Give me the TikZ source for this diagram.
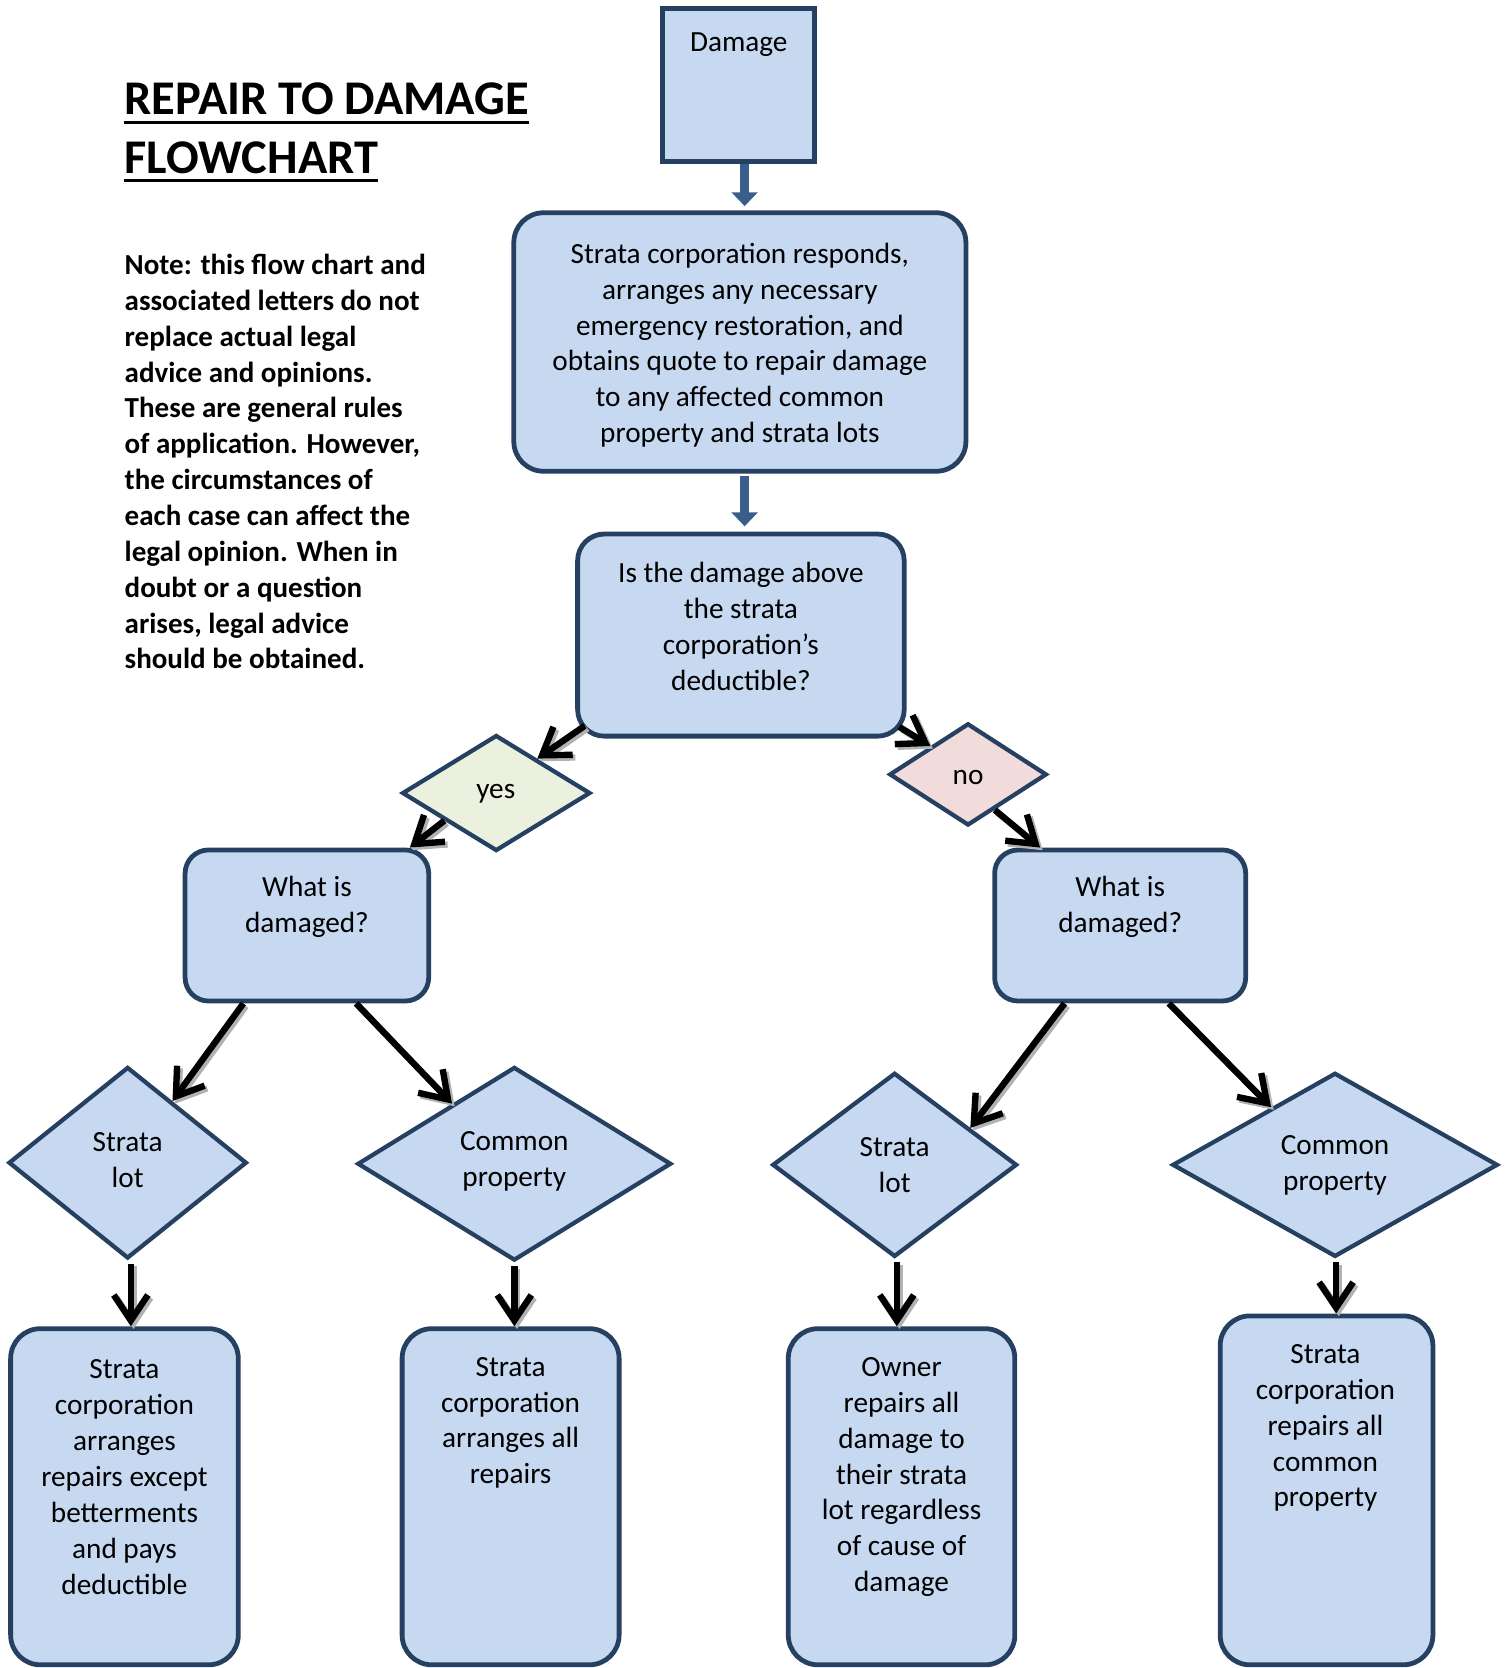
\documentclass[tikz,border=0pt]{standalone}
\usepackage{fontspec}
\setmainfont{Carlito}
\usetikzlibrary{shapes.geometric,arrows.meta}
\definecolor{boxfill}{RGB}{198,217,241}
\definecolor{boxline}{RGB}{38,64,97}
\definecolor{yesfill}{RGB}{235,241,222}
\definecolor{nofill}{RGB}{242,220,219}
\definecolor{bluearrow}{RGB}{58,94,140}
\newcommand\connector[2]{\draw[arrshadow] #1 -- #2; \draw[arr] #1 -- #2;}
\begin{document}
\begin{tikzpicture}[x=1pt,y=-1pt,
  box/.style={draw=boxline, line width=4.5pt, fill=boxfill, rounded corners=28pt, inner sep=0pt},
  sq/.style={draw=boxline, line width=4.5pt, fill=boxfill, inner sep=0pt},
  dia/.style={diamond, draw=boxline, line width=4pt, fill=boxfill, inner sep=0pt, aspect=1},
  txt/.style={align=center, font=\fontsize{27.5}{33.7}\selectfont, inner sep=0pt},
  note/.style={align=left, font=\fontsize{27.3}{33.7}\selectfont\bfseries, inner sep=0pt},
  ttl/.style={font=\fontsize{45.5}{56}\selectfont\bfseries, inner sep=0pt},
  arr/.style={line width=6pt, draw=black, -{Straight Barb[length=24pt,width=32pt]}},
  arrshadow/.style={arr, draw=black!30, transform canvas={shift={(2.5pt,-2.5pt)}}},
  barr/.style={line width=9pt, draw=bluearrow, -{Triangle[length=13pt,width=24pt]}}
]
\useasboundingbox (0,0) rectangle (1417,1568);

% title and note
\node[ttl, anchor=base west] (t1) at (117,108) {REPAIR TO DAMAGE};
\node[ttl, anchor=base west] (t2) at (117,163) {FLOWCHART};
\draw[line width=3pt] ([yshift=-7pt]t1.base west) -- ([yshift=-7pt]t1.base east);
\draw[line width=3pt] ([yshift=-7pt]t2.base west) -- ([yshift=-7pt]t2.base east);
\node[note, anchor=west] (nt) at (117,434) {Note: this flow chart and\\associated letters do not\\replace actual legal\\advice and opinions.\\These are general rules\\of application. However,\\the circumstances of\\each case can affect the\\legal opinion. When in\\doubt or a question\\arises, legal advice\\should be obtained.};

% boxes
\node[sq, minimum width=143pt, minimum height=144pt] (dmg) at (694.5,80) {};
\node[txt] (dmgt) at (694.5,41.5) {Damage};
\node[box, minimum width=425pt, minimum height=243pt] (box2) at (695.5,321.5) {};
\node[txt] (box2t) at (695.5,324.5) {Strata corporation responds,\\arranges any necessary\\emergency restoration, and\\obtains quote to repair damage\\to any affected common\\property and strata lots};
\node[box, minimum width=307pt, minimum height=190pt, rounded corners=25pt] (box3) at (696.5,597) {};
\node[txt] (box3t) at (696.5,589) {Is the damage above\\the strata\\corporation’s\\deductible?};

\node[dia, fill=yesfill, minimum width=177pt, minimum height=109pt] (yes) at (466.5,745.5) {};
\node[txt] (yest) at (466,746) {yes};
\node[dia, fill=nofill, minimum width=148pt, minimum height=96pt] (no) at (910,728) {};
\node[txt] (not) at (910,731) {no};

\node[box, minimum width=229pt, minimum height=142pt, rounded corners=22pt] (lw) at (288.5,870) {};
\node[txt] (lwt) at (288.5,852.5) {What is\\damaged?};
\node[box, minimum width=236pt, minimum height=142pt, rounded corners=22pt] (rw) at (1053,870) {};
\node[txt] (rwt) at (1053,852.5) {What is\\damaged?};

\node[dia, minimum width=224pt, minimum height=180pt] (sl1) at (120,1093) {};
\node[txt] (sl1t) at (120,1090.5) {Strata\\lot};
\node[dia, minimum width=295pt, minimum height=182pt] (cp1) at (483.5,1094) {};
\node[txt] (cp1t) at (483.5,1091.5) {Common\\property};
\node[dia, minimum width=230pt, minimum height=173pt] (sl2) at (841,1095) {};
\node[txt] (sl2t) at (841,1095) {Strata\\lot};
\node[dia, minimum width=306pt, minimum height=173pt] (cp2) at (1255,1095) {};
\node[txt] (cp2t) at (1255,1095.5) {Common\\property};

\node[box, minimum width=214pt, minimum height=316pt] (b1) at (117,1407) {};
\node[txt] (b1t) at (117,1388.5) {Strata\\corporation\\arranges\\repairs except\\betterments\\and pays\\deductible};
\node[box, minimum width=204pt, minimum height=316pt] (b2) at (480,1407) {};
\node[txt] (b2t) at (480,1337.5) {Strata\\corporation\\arranges all\\repairs};
\node[box, minimum width=213pt, minimum height=316pt] (b3) at (847.5,1407) {};
\node[txt] (b3t) at (847.5,1388.5) {Owner\\repairs all\\damage to\\their strata\\lot regardless\\of cause of\\damage};
\node[box, minimum width=200pt, minimum height=328pt] (b4) at (1247,1401) {};
\node[txt] (b4t) at (1246,1342.5) {Strata\\corporation\\repairs all\\common\\property};

% blue arrows
\draw[barr, shorten >=4pt] ([xshift=5.5pt]dmg.south) -- ([xshift=5.5pt]dmg.south |- box2.north);
\draw[barr, shorten >=5pt, shorten <=2pt] ([xshift=4.5pt]box2.south) -- ([xshift=4.5pt]box2.south |- box3.north);

% black arrows
\connector{([shift={(9,-12)}]box3.south west)}{(yes.40)}
\connector{(yes.208)}{([xshift=-20pt]lw.north east)}
\connector{([shift={(-7,-11)}]box3.south east)}{(no.143)}
\connector{(no.-53)}{([xshift=45pt]rw.north west)}
\connector{([xshift=57pt]lw.south west)}{(sl1.54)}
\connector{([xshift=163pt]lw.south west)}{(cp1.136)}
\connector{([xshift=68pt]rw.south west)}{(sl2.26)}
\connector{([xshift=166pt]rw.south west)}{(cp2.138)}
\connector{([xshift=3pt,yshift=-3pt]sl1.south)}{([xshift=3pt]sl1.south |- b1.north)}
\connector{([yshift=-3pt]cp1.south)}{(cp1.south |- b2.north)}
\connector{([xshift=2pt,yshift=-3pt]sl2.south)}{([xshift=2pt]sl2.south |- b3.north)}
\connector{([xshift=1pt,yshift=-3pt]cp2.south)}{([xshift=1pt]cp2.south |- b4.north)}
\end{tikzpicture}
\end{document}
